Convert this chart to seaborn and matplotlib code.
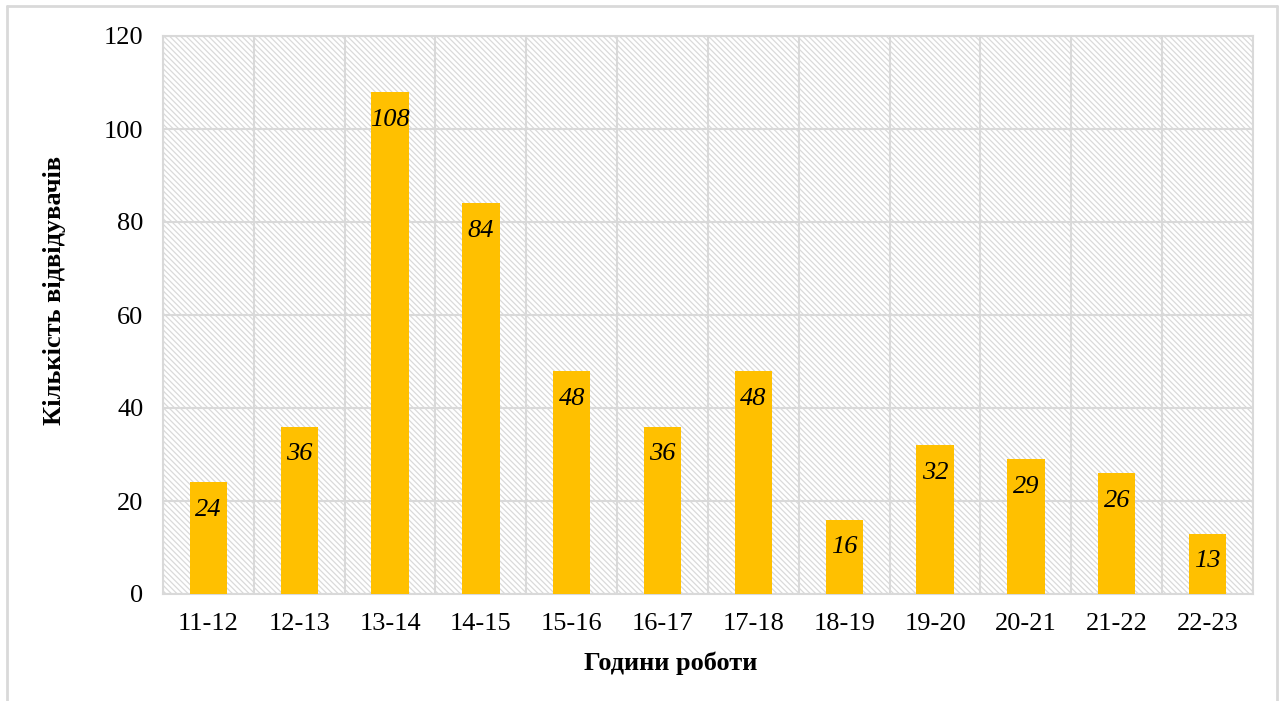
import seaborn as sns
import pandas as pd
import matplotlib.pyplot as plt
from matplotlib.patches import Rectangle
from matplotlib.lines import Line2D

hours = ["11-12", "12-13", "13-14", "14-15", "15-16", "16-17",
         "17-18", "18-19", "19-20", "20-21", "21-22", "22-23"]
visitors = [24, 36, 108, 84, 48, 36, 48, 16, 32, 29, 26, 13]

df = pd.DataFrame({"hours": hours, "visitors": visitors})

sns.set_style("white")
plt.rcParams["font.family"] = ["Liberation Serif", "DejaVu Serif"]
plt.rcParams["text.color"] = "black"
plt.rcParams["hatch.linewidth"] = 0.9

fig = plt.figure(figsize=(12.84, 7.01), dpi=100)
ax = fig.add_axes([163 / 1284, 1 - 594 / 701, (1253 - 163) / 1284, (594 - 36) / 701])

grid_col = "#d9d9d9"

# fondo rayado del area de trazado
bg = Rectangle((0, 0), 1, 1, transform=ax.transAxes, facecolor="white",
               edgecolor="#dadada", linewidth=0, hatch="\\" * 6, zorder=0)
ax.add_patch(bg)

sns.barplot(data=df, x="hours", y="visitors", color="#FFC000",
            width=0.41, saturation=1, linewidth=0, ax=ax, zorder=3)

ax.set_xlim(-0.5, len(hours) - 0.5)
ax.set_ylim(0, 120)
ax.set_yticks(range(0, 121, 20))
ax.set_xticks([i - 0.5 for i in range(len(hours) + 1)], minor=True)
ax.grid(axis="y", which="major", color=grid_col, linewidth=1.5, zorder=1)
ax.grid(axis="x", which="minor", color=grid_col, linewidth=1.5, zorder=1)
ax.grid(axis="x", which="major", visible=False)
ax.set_axisbelow(True)
for s in ax.spines.values():
    s.set_color(grid_col)
    s.set_linewidth(1.5)

ax.tick_params(axis="both", which="both", length=0, labelsize=19, colors="black")
ax.tick_params(axis="y", pad=14)
ax.tick_params(axis="x", pad=14)
ax.set_xlabel("")
ax.set_ylabel("")

# etiquetas de datos
for i, v in enumerate(visitors):
    ax.annotate(str(v), (i, v), xytext=(0, -20), textcoords="offset points",
                ha="center", va="center", fontsize=19, style="italic", color="black")

fig.text(671 / 1284, 1 - 663 / 701, "Години роботи", ha="center", va="center",
         fontsize=19, fontweight="bold", color="black")
fig.text(55 / 1284, 1 - 290 / 701, "Кількість відвідувачів", ha="center", va="center",
         fontsize=19, fontweight="bold", rotation=90, color="black")

# borde de la figura
x0, x1, y0 = 7 / 1284, 1277 / 1284, 1 - 6 / 701
for xs, ys in [([x0, x0], [0, y0]), ([x0, x1], [y0, y0]), ([x1, x1], [y0, 0])]:
    fig.add_artist(Line2D(xs, ys, color=grid_col, linewidth=2))

fig.savefig("out.png", dpi=100)
